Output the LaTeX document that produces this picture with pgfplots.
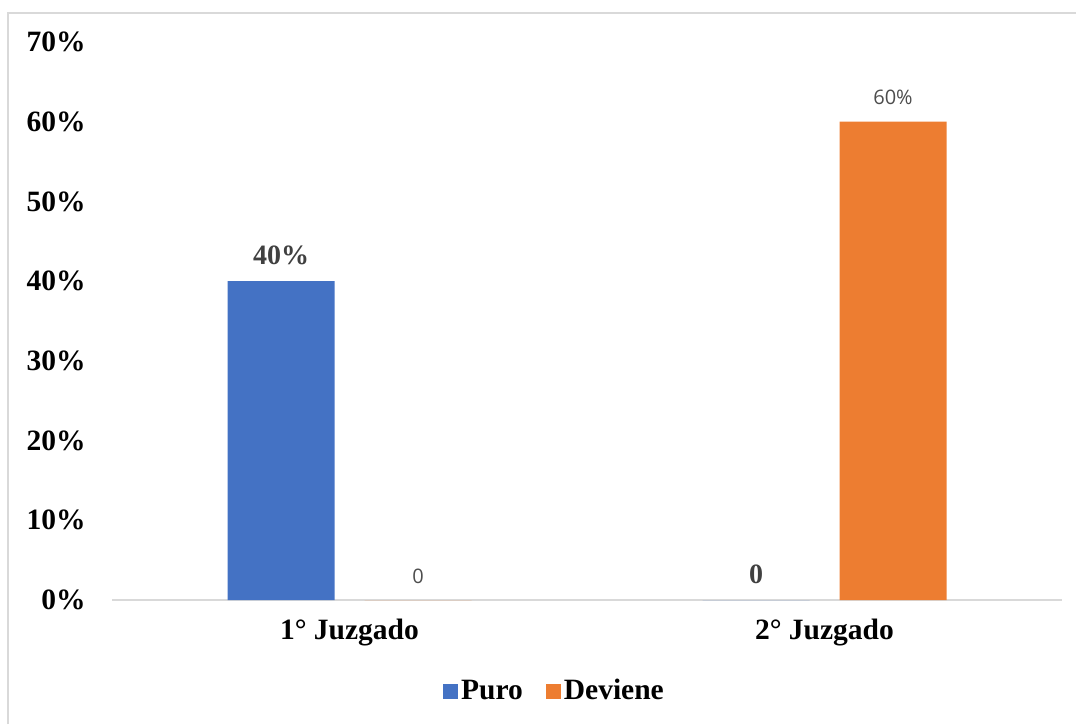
\documentclass[border=0pt]{standalone}
\usepackage{fontspec}
\setmainfont{Liberation Serif}
\newfontfamily\lblsans{Open Sans}
\usepackage{pgfplots}
\pgfplotsset{compat=1.18}
\definecolor{cblue}{HTML}{4472C4}
\definecolor{corange}{HTML}{ED7D31}
\definecolor{axgray}{HTML}{D9D9D9}
\definecolor{lblgray}{HTML}{404040}
\definecolor{lblgraytwo}{HTML}{4D4D4D}
\begin{document}
\begin{tikzpicture}[x=1pt,y=1pt]
\useasboundingbox (-56,-62) rectangle (482,300);
\draw[axgray, line width=0.9pt] (-52,-62) -- (-52,293.5) -- (482,293.5);
\begin{axis}[
  at={(0,0)}, anchor=south west,
  scale only axis, width=475pt, height=279pt,
  xmin=-0.5, xmax=1.5, ymin=0, ymax=70,
  clip=false,
  ybar, bar width=53.5pt,
  xtick={0,1}, xticklabels={1° Juzgado, 2° Juzgado},
  ytick={0,10,...,70},
  yticklabel={\pgfmathprintnumber{\tick}\%},
  /pgf/number format/assume math mode=true,
  tick label style={font=\bfseries\fontsize{14.75}{17}\selectfont, text=black},
  xticklabel style={yshift=-6pt},
  yticklabel style={xshift=-9.7pt},
  major tick length=0pt,
  axis lines*=left,
  y axis line style={draw=none},
  x axis line style={draw=axgray, line width=0.8pt, -},
  point meta=explicit symbolic,
  legend columns=2,
  legend style={at={(0.4663,-0.1631)}, anchor=center, draw=none, fill=none,
    font=\bfseries\fontsize{14.75}{17}\selectfont,
    /tikz/every even column/.append style={column sep=10pt},
    nodes={inner sep=1.5pt}},
  legend image code/.code={\fill[#1] (-1pt,-3.75pt) rectangle (6.5pt,3.75pt);},
]
\addplot[fill=cblue, draw=none, bar shift=-34.25pt,
  nodes near coords, every node near coord/.append style={anchor=center, yshift=13pt,
    font=\bfseries\fontsize{14}{16}\selectfont, text=lblgray}]
  coordinates {(0,40) [40\%] (1,0) [0]};
\addlegendentry{Puro}
\addplot[fill=corange, draw=none, bar shift=34.25pt,
  nodes near coords, every node near coord/.append style={anchor=center, yshift=12pt,
    font=\lblsans\fontsize{10}{12}\selectfont, text=lblgraytwo}]
  coordinates {(0,0) [0] (1,60) [60\%]};
\addlegendentry{Deviene}
\end{axis}
\end{tikzpicture}
\end{document}
